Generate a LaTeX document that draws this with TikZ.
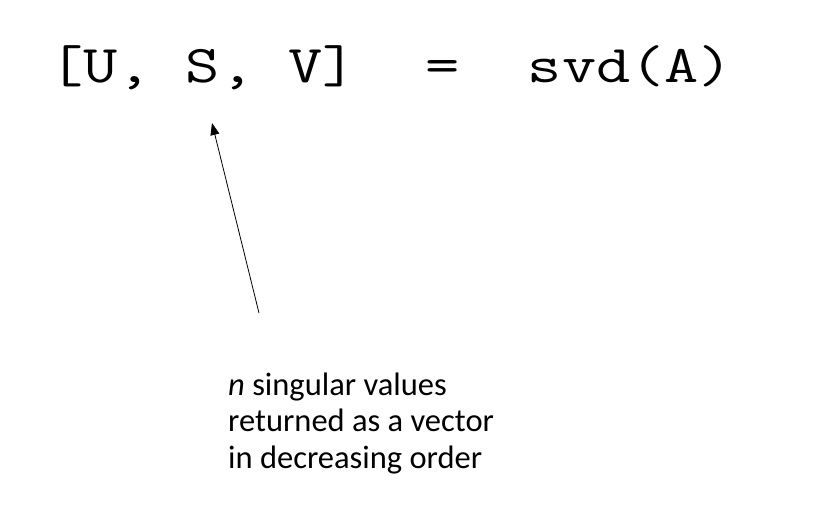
\documentclass[tikz,border=0pt]{standalone}
\usepackage{fontspec}
\usepackage{graphicx}
\setmainfont{Carlito}
\usetikzlibrary{arrows.meta}
\tikzset{
  codetext/.style={anchor=base west, inner sep=0pt, font=\ttfamily\fontsize{66.4}{68}\selectfont},
  notetext/.style={anchor=base west, inner sep=0pt, align=left, font=\fontsize{32.5}{36.5}\selectfont},
  pointer/.style={line width=0.8pt, -{Triangle[length=12pt,width=9pt]}}
}
\begin{document}
\begin{tikzpicture}[x=1pt,y=-1pt]
\useasboundingbox (0,0) rectangle (816,510);
\node[codetext] (code) at (49,83) {\scalebox{1}[0.8]{[U,\ S,\ V]\ \ =\ \ svd(A)}};
\node[notetext] (note) at (228,468) {\textit{n} singular values\\returned as a vector\\in decreasing order};
\coordinate (from) at (259,313);
\coordinate (to) at (212,123);
\draw[pointer] (from) -- (to);
\end{tikzpicture}
\end{document}
